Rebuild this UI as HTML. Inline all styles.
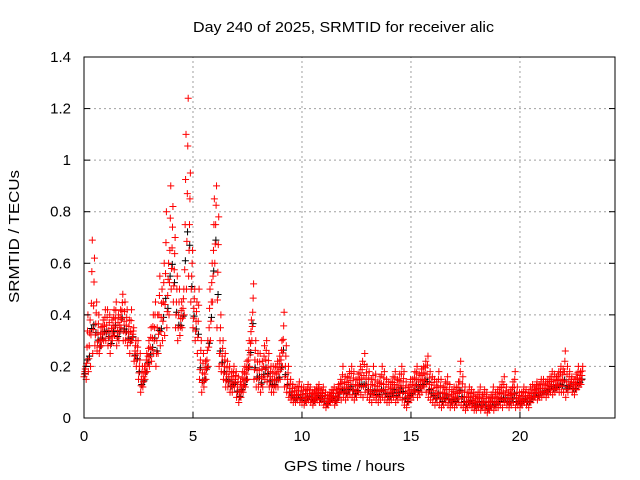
<!DOCTYPE html>
<html><head><meta charset="utf-8"><style>
html,body{margin:0;padding:0;background:#fff}
svg{display:block;font-family:"Liberation Sans",sans-serif}
</style></head><body>
<svg id="c" width="640" height="480">
<rect x="0" y="0" width="640" height="480" fill="#fff"/>
<text x="193" y="32" font-size="15" textLength="301" lengthAdjust="spacingAndGlyphs">Day 240 of 2025, SRMTID for receiver alic</text>
<text x="284" y="471" font-size="15" textLength="121" lengthAdjust="spacingAndGlyphs">GPS time / hours</text>
<text transform="translate(19,303) rotate(-90)" font-size="15" textLength="133" lengthAdjust="spacingAndGlyphs">SRMTID / TECUs</text>
<g id="grid"></g><g id="pts"></g><g id="axes"></g>
</svg>
<script>
const xTicks=[0,5,10,15,20];
const yTicks=[0,0.2,0.4,0.6,0.8,1,1.2,1.4];
const yTickLabels=["0","0.2","0.4","0.6","0.8","1","1.2","1.4"];
const tStart=0, tStep=0.1;
const lowVals=[.16,.15,.18,.2,.25,.28,.26,.25,.28,.3,
.3,.28,.25,.3,.32,.28,.3,.35,.3,.3,
.28,.25,.3,.22,.2,.15,.1,.12,.15,.18,
.2,.22,.25,.2,.25,.28,.3,.32,.35,.4,
.5,.45,.35,.3,.32,.35,.4,.5,.55,.45,
.35,.3,.25,.15,.1,.12,.15,.2,.3,.45,
.6,.35,.2,.18,.15,.12,.12,.1,.1,.12,
.08,.06,.08,.1,.12,.15,.2,.3,.15,.12,
.12,.1,.12,.15,.14,.12,.1,.1,.12,.12,
.15,.2,.12,.1,.08,.07,.06,.06,.07,.06,
.06,.05,.06,.07,.06,.05,.06,.07,.06,.07,
.05,.04,.05,.06,.07,.05,.06,.08,.07,.08,
.07,.08,.09,.08,.07,.08,.1,.09,.08,.1,
.08,.07,.06,.08,.07,.06,.07,.08,.07,.06,
.06,.07,.08,.06,.07,.08,.07,.05,.04,.06,
.07,.08,.1,.08,.09,.1,.12,.1,.08,.07,
.06,.05,.06,.05,.04,.05,.06,.05,.04,.05,
.04,.05,.06,.05,.04,.03,.04,.05,.04,.03,
.03,.04,.03,.04,.03,.02,.03,.04,.03,.04,
.04,.05,.04,.06,.05,.04,.05,.06,.04,.05,
.04,.05,.06,.05,.04,.06,.07,.08,.07,.08,
.08,.09,.08,.09,.1,.09,.1,.11,.1,.1,
.1,.08,.1,.12,.1,.09,.11,.12,.13];
const highVals=[.2,.4,.38,.69,.62,.45,.4,.35,.38,.42,
.42,.4,.38,.42,.45,.4,.42,.48,.45,.42,
.38,.42,.35,.3,.3,.25,.2,.2,.25,.3,
.35,.4,.45,.4,.55,.5,.6,.8,.6,.9,
.82,.7,.55,.5,.45,.5,1.1,1.24,.95,.65,
.5,.45,.5,.3,.25,.22,.3,.5,.6,.85,
.9,.78,.4,.3,.25,.22,.2,.18,.2,.18,
.16,.14,.18,.2,.22,.3,.38,.52,.3,.25,
.25,.22,.28,.3,.25,.2,.2,.2,.22,.24,
.3,.41,.28,.2,.15,.13,.12,.12,.14,.12,
.12,.11,.13,.12,.1,.11,.12,.13,.11,.12,
.1,.09,.1,.11,.12,.11,.13,.15,.2,.16,
.16,.18,.2,.18,.15,.17,.2,.22,.25,.2,
.18,.15,.2,.17,.14,.16,.2,.18,.15,.14,
.14,.16,.18,.15,.17,.2,.18,.14,.12,.15,
.15,.18,.2,.17,.19,.2,.22,.24,.18,.16,
.15,.14,.18,.15,.12,.14,.16,.13,.11,.12,
.12,.14,.22,.16,.12,.1,.12,.11,.1,.09,
.1,.12,.09,.11,.1,.08,.09,.12,.1,.11,
.12,.14,.16,.12,.1,.11,.14,.18,.12,.1,
.1,.12,.11,.1,.12,.13,.12,.14,.13,.15,
.15,.14,.15,.16,.18,.17,.16,.18,.2,.19,
.26,.2,.18,.16,.15,.17,.2,.18,.2];
const X0=84,X1=615,Y0=418,Y1=57,XMAX=24.36,YMAX=1.4;
const sx=v=>X0+(X1-X0)*v/XMAX, sy=v=>Y0-(Y0-Y1)*v/YMAX;
const NS="http://www.w3.org/2000/svg";
function mk(tag,attrs,parent){const e=document.createElementNS(NS,tag);for(const k in attrs)e.setAttribute(k,attrs[k]);parent.appendChild(e);return e;}
const grid=document.getElementById('grid'),axes=document.getElementById('axes'),pts=document.getElementById('pts');
xTicks.forEach(t=>{const x=sx(t);
 if(t>0){const g=mk('line',{x1:x,y1:Y0,x2:x,y2:Y1,stroke:'#a0a0a0','stroke-dasharray':'2,3'},grid);
 }
 const tk=mk('line',{x1:x,y1:Y0,x2:x,y2:Y0-6,stroke:'#000'},axes);
 
 const tx=mk('text',{x:x,y:Y0+23,'font-size':15,'text-anchor':'middle'},axes);tx.textContent=t;
 });
yTicks.forEach((t,i)=>{const y=sy(t);
 if(t>0&&t<YMAX){const g=mk('line',{x1:X0,y1:y,x2:X1,y2:y,stroke:'#a0a0a0','stroke-dasharray':'2,3'},grid);
 }
 const tk=mk('line',{x1:X0,y1:y,x2:X0+6,y2:y,stroke:'#000'},axes);
 
 const tk2=mk('line',{x1:X1,y1:y,x2:X1-6,y2:y,stroke:'#000'},axes);
 
 const tx=mk('text',{x:X0-13,y:y+5,'font-size':15,'text-anchor':'end'},axes);tx.textContent=yTickLabels[i];
 });
const fr=mk('rect',{x:X0,y:Y1,width:X1-X0,height:Y0-Y1,fill:'none',stroke:'#000'},axes);

function plus(x,y,col,name){const p=mk('path',{d:`M${x-3.5} ${y}h7M${x} ${y-3.5}v7`,stroke:col,'stroke-width':1,fill:'none'},pts);
 }
const fr5=[0,0.25,0.5,0.75,1];
lowVals.forEach((a,i)=>{const b=highVals[i],t=tStart+i*tStep;
 plus(sx(t+0.05),sy(a+(b-a)*0.3),'#000','black-point');});
lowVals.forEach((a,i)=>{const b=highVals[i],t=tStart+i*tStep;
 fr5.forEach((f,j)=>plus(sx(t+j*0.02),sy(a+(b-a)*f),'#ff0000','red-point'));});
</script>
</body></html>
